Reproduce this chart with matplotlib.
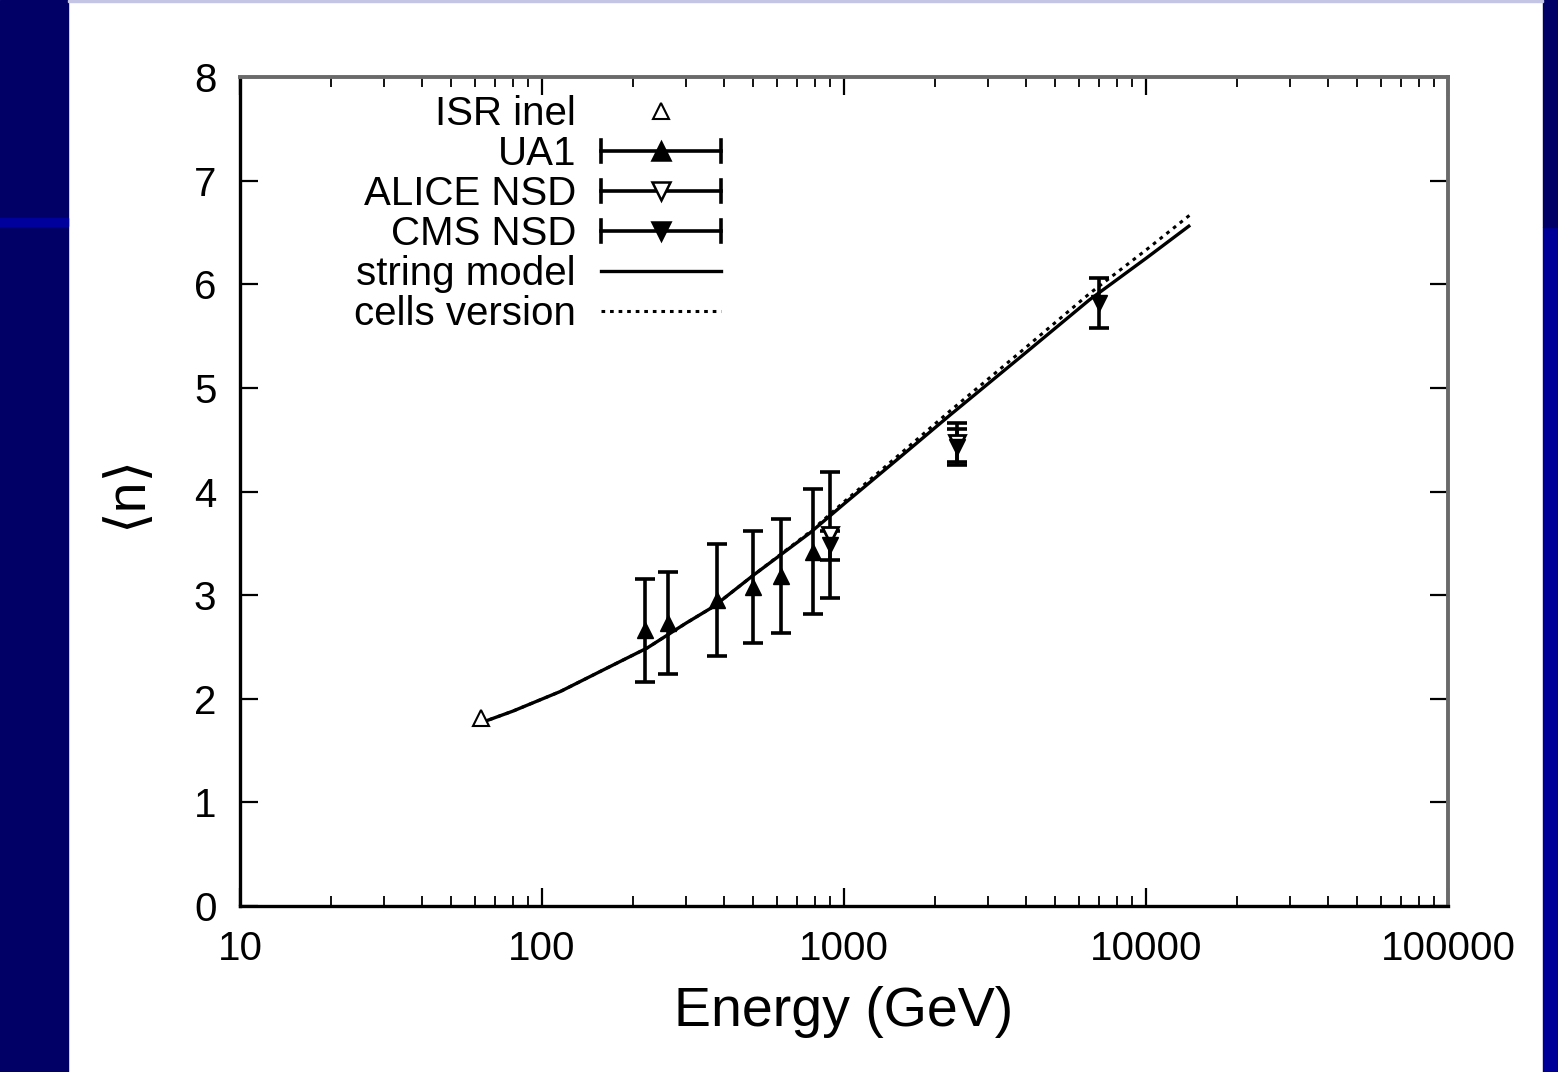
import matplotlib
matplotlib.use("Agg")
import matplotlib.pyplot as plt
from matplotlib.patches import Rectangle
from matplotlib.lines import Line2D
from matplotlib.legend_handler import HandlerBase
from matplotlib.ticker import LogLocator, FixedLocator, NullFormatter

plt.rcParams['font.family'] = ['Liberation Sans', 'DejaVu Sans']

# ---------------- data ----------------
isr_E = [63]
isr_n = [1.81]

ua1_E = [220, 262, 380, 500, 620, 790]
ua1_n = [2.66, 2.73, 2.95, 3.08, 3.18, 3.42]
ua1_err = [0.50, 0.49, 0.54, 0.54, 0.55, 0.60]

alice_E = [900, 2360]
alice_n = [3.58, 4.47]
alice_err = [0.61, 0.19]

cms_E = [900, 2360, 7000]
cms_n = [3.48, 4.43, 5.82]
cms_err = [0.14, 0.17, 0.24]

model_E = [63, 80, 115, 160, 223, 300, 370, 500, 771, 1000, 1531, 2250, 4000, 6500, 10000, 14000]
string_n = [1.77, 1.88, 2.07, 2.28, 2.49, 2.73, 2.89, 3.19, 3.60, 3.88, 4.33, 4.74, 5.34, 5.85, 6.25, 6.57]
cells_n = [1.77, 1.88, 2.07, 2.28, 2.49, 2.73, 2.89, 3.19, 3.61, 3.90, 4.36, 4.78, 5.39, 5.91, 6.33, 6.67]

x_ticks = [10, 100, 1000, 10000, 100000]
x_ticklabels = ['10', '100', '1000', '10000', '100000']
y_ticks = [0, 1, 2, 3, 4, 5, 6, 7, 8]

# ---------------- figure ----------------
W, H = 1558, 1072
fig = plt.figure(figsize=(W / 100, H / 100), dpi=100, facecolor='white')

navy = '#000066'
blue = '#000099'
fig.add_artist(Rectangle((0, 0), 68 / W, 1, transform=fig.transFigure, color=navy, zorder=-10))
fig.add_artist(Rectangle((0, 1 - 226 / H), 68 / W, 8 / H, transform=fig.transFigure, color='#00009c', zorder=-9))
fig.add_artist(Rectangle((1543 / W, 0), 15 / W, 1 - 227 / H, transform=fig.transFigure, color=blue, zorder=-10))
fig.add_artist(Rectangle((1543 / W, 1 - 227 / H), 15 / W, 227 / H, transform=fig.transFigure, color=navy, zorder=-10))
fig.add_artist(Rectangle((68 / W, 1 - 2 / H), (1543 - 68) / W, 2 / H, transform=fig.transFigure, color='#c4c4e4', zorder=-9))

ax = fig.add_axes([240 / W, 1 - 906 / H, (1448 - 240) / W, (906 - 77) / H])
ax.set_xscale('log')
ax.set_xlim(10, 100000)
ax.set_ylim(0, 8)

lw = 2.4
ax.plot(model_E, string_n, color='black', lw=lw, solid_capstyle='butt', zorder=3)
ax.plot(model_E, cells_n, color='black', lw=2.2, linestyle=(0, (1.2, 1.6)), zorder=3)

ax.plot(isr_E, isr_n, linestyle='none', marker='^', ms=12, mfc='white', mec='black', mew=1.5, zorder=5)

eb_kw = dict(fmt='none', ecolor='black', elinewidth=2.6, capsize=7, capthick=2.6, zorder=4)
ax.errorbar(ua1_E, ua1_n, yerr=ua1_err, **eb_kw)
ax.errorbar(alice_E, alice_n, yerr=alice_err, **eb_kw)
ax.errorbar(cms_E, cms_n, yerr=cms_err, **eb_kw)
ax.plot(ua1_E, ua1_n, linestyle='none', marker='^', ms=12, color='black', zorder=5)
ax.plot(alice_E, alice_n, linestyle='none', marker='v', ms=12, mfc='white', mec='black', mew=2, zorder=5)
ax.plot(cms_E, cms_n, linestyle='none', marker='v', ms=12, color='black', zorder=6)

# ticks
ax.xaxis.set_major_locator(FixedLocator(x_ticks))
ax.set_xticklabels(x_ticklabels)
ax.xaxis.set_minor_locator(LogLocator(base=10, subs=range(2, 10)))
ax.xaxis.set_minor_formatter(NullFormatter())
ax.set_yticks(y_ticks)
ax.tick_params(axis='both', which='major', direction='in', length=13, width=1.6,
               top=True, right=True, labelsize=29, color='black')
ax.tick_params(axis='x', which='major', pad=17)
ax.tick_params(axis='y', which='major', pad=17)
ax.tick_params(axis='x', which='minor', direction='in', length=7, width=1.3, top=True, color='black')

for s in ['left', 'bottom']:
    ax.spines[s].set_color('black')
    ax.spines[s].set_linewidth(2.4)
for s in ['top', 'right']:
    ax.spines[s].set_color('#6a6a6a')
    ax.spines[s].set_linewidth(2.8)

ax.set_xlabel('Energy (GeV)', fontsize=40)
ax.xaxis.set_label_coords(0.5, -0.097)
ax.set_ylabel('⟨n⟩', fontsize=40)
ax.yaxis.set_label_coords(-0.072, 0.5)


# ---------------- legend ----------------
class HandlerErrH(HandlerBase):
    def __init__(self, marker, mfc):
        super().__init__()
        self.marker = marker
        self.mfc = mfc

    def create_artists(self, legend, orig_handle, xdescent, ydescent, width, height, fontsize, trans):
        y = height / 2 - ydescent
        x0, x1 = -xdescent, -xdescent + width
        cap = 0.27 * fontsize
        arts = [Line2D([x0, x1], [y, y], color='black', lw=2.6),
                Line2D([x0, x0], [y - cap, y + cap], color='black', lw=2.6),
                Line2D([x1, x1], [y - cap, y + cap], color='black', lw=2.6),
                Line2D([(x0 + x1) / 2], [y], marker=self.marker, ms=13, mfc=self.mfc,
                       mec='black', mew=1.8, linestyle='none')]
        for a in arts:
            a.set_transform(trans)
        return arts


class HandlerMarker(HandlerBase):
    def create_artists(self, legend, orig_handle, xdescent, ydescent, width, height, fontsize, trans):
        y = height / 2 - ydescent
        a = Line2D([-xdescent + width / 2], [y], marker='^', ms=12, mfc='white', mec='black',
                   mew=1.5, linestyle='none')
        a.set_transform(trans)
        return [a]


h_isr = Line2D([], [])
h_ua1 = Line2D([], [], marker='^')
h_alice = Line2D([], [], marker='v')
h_cms = Line2D([], [], marker='s')
h_str = Line2D([], [], color='black', lw=2.4)
h_cell = Line2D([], [], color='black', lw=2.2, linestyle=(0, (1.2, 1.6)))

leg = ax.legend([h_isr, h_ua1, h_alice, h_cms, h_str, h_cell],
                ['ISR inel', 'UA1', 'ALICE NSD', 'CMS NSD', 'string model', 'cells version'],
                handler_map={h_isr: HandlerMarker(),
                             h_ua1: HandlerErrH('^', 'black'),
                             h_alice: HandlerErrH('v', 'white'),
                             h_cms: HandlerErrH('v', 'black')},
                markerfirst=False, frameon=False, fontsize=29,
                handlelength=2.98, handletextpad=0.62, labelspacing=0.05,
                borderpad=0, borderaxespad=0,
                loc='upper left', bbox_to_anchor=((354 - 240) / 1208, (906 - 95) / 829))

fig.savefig('out.png', dpi=100, facecolor=fig.get_facecolor())
